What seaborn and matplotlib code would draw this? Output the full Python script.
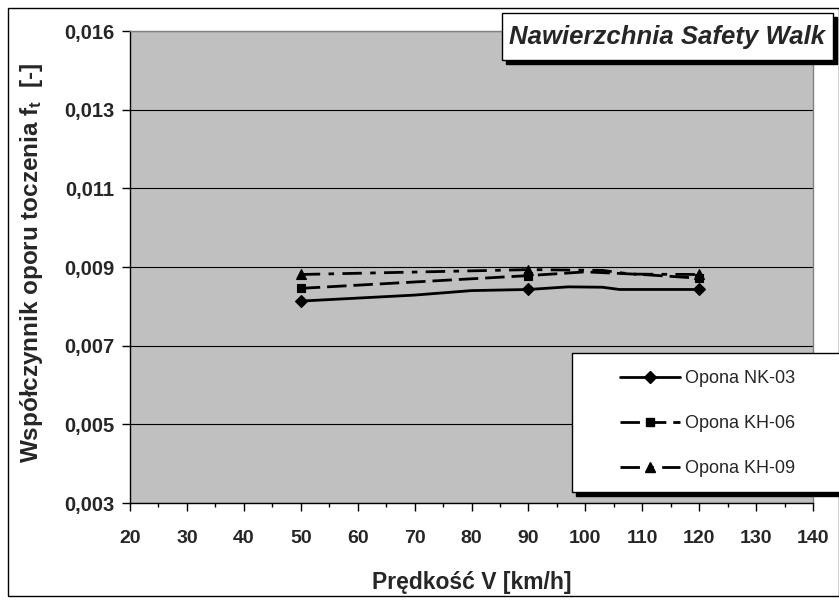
import matplotlib
matplotlib.use("Agg")
import matplotlib.pyplot as plt
import seaborn as sns
import pandas as pd
from matplotlib.patches import Rectangle
from matplotlib.lines import Line2D

# ---------------- data ----------------
title = "Nawierzchnia Safety Walk"
x_label = "Prędkość V [km/h]"
y_label = r"Współczynnik oporu toczenia f$_{t}$  [-]"
series_names = ["Opona NK-03", "Opona KH-06", "Opona KH-09"]

speed_nk03 = [50, 70, 80, 90, 97, 103, 106, 120]
ft_nk03 = [0.00839, 0.00855, 0.00867, 0.00870, 0.00877, 0.00876, 0.00870, 0.00870]

speed_kh06 = [50, 90, 100, 110, 120]
ft_kh06 = [0.00873, 0.00907, 0.00917, 0.00910, 0.00900]

speed_kh09 = [50, 90, 103, 108, 120]
ft_kh09 = [0.00910, 0.00923, 0.00921, 0.00911, 0.00910]

marker_speeds = [50, 90, 120]

x_ticks = [20, 30, 40, 50, 60, 70, 80, 90, 100, 110, 120, 130, 140]
x_minor_ticks = [25, 35, 45, 55, 65, 75, 85, 95, 105, 115, 125, 135]
y_tick_values = [0.003, 0.0051, 0.0072, 0.0093, 0.0114, 0.0135, 0.0156]
y_tick_labels = ["0,003", "0,005", "0,007", "0,009", "0,011", "0,013", "0,016"]

# ---------------- style ----------------
sns.set_theme(style="white")
plt.rcParams["font.family"] = ["Liberation Sans", "DejaVu Sans"]
plt.rcParams["mathtext.fontset"] = "custom"
plt.rcParams["mathtext.rm"] = "Liberation Sans:bold"
plt.rcParams["mathtext.it"] = "Liberation Sans:bold"
plt.rcParams["mathtext.bf"] = "Liberation Sans:bold"
plt.rcParams["mathtext.default"] = "rm"
plt.rcParams["lines.scale_dashes"] = False

W, H = 839, 603
fig = plt.figure(figsize=(W / 100, H / 100), dpi=100)
fig.patch.set_facecolor("white")


def fx(px):
    return px / W


def fy(py):
    return 1 - py / H


def frect(x0, y0, x1, y1, **kw):
    r = Rectangle((fx(x0), fy(y1)), fx(x1) - fx(x0), fy(y0) - fy(y1),
                  transform=fig.transFigure, **kw)
    fig.patches.append(r)
    return r


# outer chart border
frect(8, 8, 838.5, 596, fill=False, edgecolor="black", lw=1, zorder=1)

ax = fig.add_axes([fx(130), fy(503), fx(813) - fx(130), fy(31) - fy(503)])
ax.set_facecolor("#C0C0C0")
ax.set_axisbelow(True)

styles = {
    "Opona NK-03": dict(linestyle="-", marker="D", markersize=6),
    "Opona KH-06": dict(linestyle=(0, (14, 5)), marker="s", markersize=6),
    "Opona KH-09": dict(linestyle=(0, (14, 6, 4, 6)), marker="^", markersize=7.5),
}
series = [(speed_nk03, ft_nk03), (speed_kh06, ft_kh06), (speed_kh09, ft_kh09)]

for name, (xs, ys) in zip(series_names, series):
    df = pd.DataFrame({"speed": xs, "ft": ys})
    idx = [i for i, s in enumerate(xs) if s in marker_speeds]
    sns.lineplot(data=df, x="speed", y="ft", ax=ax, color="black", lw=2,
                 estimator=None, sort=False, markevery=idx,
                 markerfacecolor="black", markeredgecolor="black",
                 markeredgewidth=0.8, **styles[name])

ax.set_xlim(20, 140)
ax.set_ylim(0.003, 0.0156)
ax.set_xticks(x_ticks)
ax.set_xticks(x_minor_ticks, minor=True)
ax.set_yticks(y_tick_values, y_tick_labels)
ax.set_xlabel("")
ax.set_ylabel("")

ax.yaxis.grid(True, color="black", lw=0.8)
ax.xaxis.grid(False)
for s in ["left", "bottom"]:
    ax.spines[s].set_color("black")
    ax.spines[s].set_linewidth(1)
for s in ["top", "right"]:
    ax.spines[s].set_color("#808080")
    ax.spines[s].set_linewidth(1)

ax.tick_params(axis="x", which="major", direction="out", length=5.5, width=1,
               color="black", pad=14, labelsize=14, bottom=True)
ax.tick_params(axis="x", which="minor", direction="out", length=3, width=1,
               color="black", bottom=True)
ax.tick_params(axis="y", which="major", direction="out", length=5.5, width=1,
               color="black", pad=6, labelsize=14.5, left=True)
for lbl in ax.get_xticklabels() + ax.get_yticklabels():
    lbl.set_fontweight("bold")

# axis titles
fig.text(fx(472), fy(582), x_label, ha="center", va="center",
         fontsize=16.5, fontweight="bold")
fig.text(fx(32), fy(263), y_label, ha="center", va="center", rotation=90,
         fontsize=17.5, fontweight="bold")

# chart title box with shadow
frect(506, 17, 837, 64, facecolor="black", edgecolor="black", lw=1, zorder=2)
frect(502, 13, 833, 60, facecolor="white", edgecolor="black", lw=1, zorder=2.1)
fig.text(fx(667.5), fy(37), title, ha="center", va="center", fontsize=18.5,
         fontweight="bold", style="italic", zorder=3)

# legend box with shadow
frect(576, 357, 845, 496, facecolor="black", edgecolor="black", lw=1, zorder=2)
frect(572, 353, 842, 492, facecolor="white", edgecolor="black", lw=1, zorder=2.1)
handles = [Line2D([], [], color="black", lw=2, markerfacecolor="black",
                  markeredgecolor="black", **styles[n]) for n in series_names]
leg = fig.legend(handles, series_names, loc="upper left",
                 bbox_to_anchor=(fx(620), fy(370)), frameon=False,
                 fontsize=13, handlelength=3.32, handletextpad=0.28,
                 labelspacing=1.55, borderpad=0, borderaxespad=0, numpoints=1)
leg.set_zorder(5)

fig.savefig("out.png", dpi=100)
